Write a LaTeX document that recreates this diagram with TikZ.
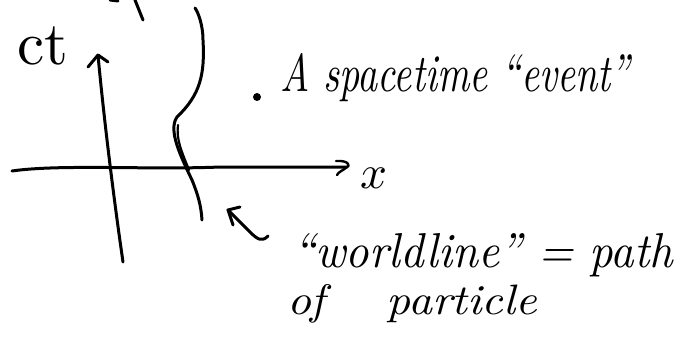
\documentclass[tikz,border=0pt]{standalone}
\usepackage{graphicx}
\tikzset{
  ink/.style={line width=3pt, line cap=round, line join=round},
  hand/.style={inner sep=0pt, outer sep=0pt, font=\itshape}
}
\begin{document}
\begin{tikzpicture}[x=1pt,y=-1pt]
\useasboundingbox (0,0) rectangle (680,337);
% cut-off strokes at the top
\coordinate (s1a) at (110,0); \coordinate (s1b) at (118,1);
\draw[ink] (s1a) -- (s1b);
\coordinate (s2a) at (135,0); \coordinate (s2b) at (143,20);
\draw[ink] (s2a) -- (s2b);
% ct axis
\coordinate (ctb) at (123,262);
\coordinate (ctt) at (98,55);
\draw[ink] (ctb) .. controls (114,200) and (104,120) .. (ctt);
\coordinate (cta1) at (88,67);
\coordinate (cta2) at (108,62);
\draw[ink] (cta1) -- (ctt) -- (cta2);
% x axis
\coordinate (xl) at (12,171);
\coordinate (xr) at (347,167);
\draw[ink] (xl) .. controls (60,164) and (150,170) .. (220,167) -- (xr);
\coordinate (xa1) at (336,161);
\coordinate (xa2) at (337,175);
\draw[ink, line width=2.4pt] (xa1) .. controls (350,160) and (350,167) .. (xr) .. controls (344,170) and (338,172) .. (xa2);
% labels
\node[hand, anchor=base west] (ct) at (17,64) {\resizebox{51pt}{!}{\upshape ct}};
\node[hand, anchor=base west] (xlab) at (360,188) {\resizebox{27pt}{!}{$x$}};
% worldline
\coordinate (w0) at (195,8);
\coordinate (w1) at (203,40);
\coordinate (w2) at (177,117);
\coordinate (w3) at (202,220);
\draw[ink] (w0) .. controls (198,12) and (203,25) .. (w1)
  .. controls (205,75) and (200,95) .. (w2)
  .. controls (168,130) and (180,155) .. (192,180)
  .. controls (198,195) and (201,205) .. (w3);
\draw[line width=2.2pt, line cap=round] (178,125) .. controls (176,140) and (182,152) .. (189,170);
% event
\node[circle, fill=black, inner sep=0pt, minimum size=8pt] (ev) at (257,97) {};
\node[hand, anchor=base west] (evtxt) at (280,92) {\resizebox{350pt}{38pt}{A spacetime ``event''}};
% worldline arrow
\coordinate (wa0) at (268,236);
\coordinate (wat) at (228,210);
\draw[ink] (wa0) .. controls (262,242) and (258,240) .. (250,232) -- (wat);
\coordinate (wh1) at (240,207);
\coordinate (wh2) at (233,225);
\draw[ink] (wh1) -- (wat) -- (wh2);
% worldline label
\node[hand, anchor=base west] (wl) at (293,267) {\resizebox{380pt}{34pt}{``worldline'' = path}};
\node[hand, anchor=base west] (pp) at (287,314) {\resizebox{250pt}{30pt}{of\hspace{1.3em}particle}};
\end{tikzpicture}
\end{document}
